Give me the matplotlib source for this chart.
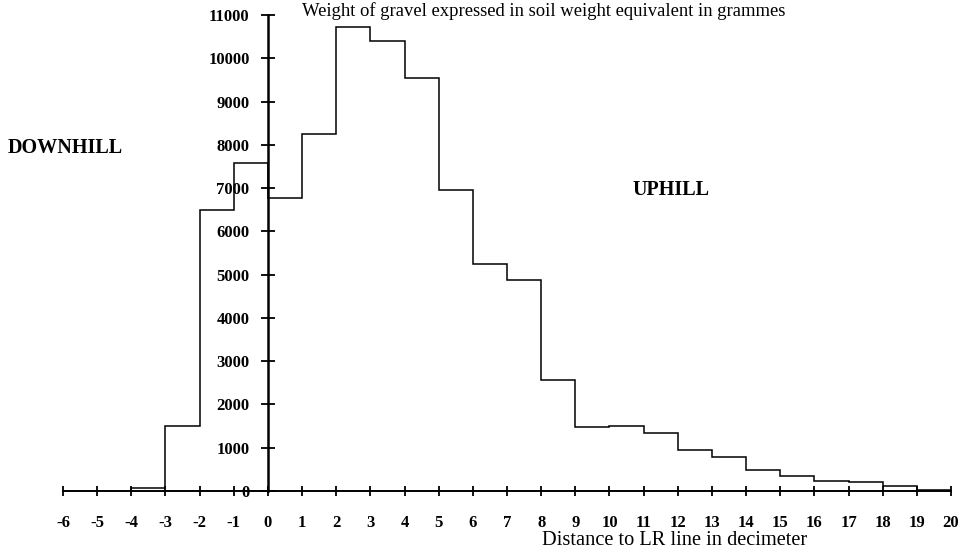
"""Gravel weight histogram against distance to the LR line (step outline, centred y-axis)."""

import matplotlib

matplotlib.use("Agg")
import matplotlib.pyplot as plt
import numpy as np

# Bin edges in decimetres and gravel weight per bin (grammes, soil-weight equivalent).
edges = np.arange(-4, 21)
weights = [60, 1500, 6500, 7580, 6770, 8250, 10720, 10400, 9540, 6950,
           5240, 4870, 2560, 1480, 1510, 1340, 950, 780, 480, 340,
           220, 200, 120, 30]
x_ticks = list(range(-6, 21))
y_ticks = list(range(0, 11001, 1000))

plt.rcParams["font.family"] = ["Liberation Serif", "DejaVu Serif"]
plt.rcParams["axes.unicode_minus"] = False

W, H = 968, 558
fig = plt.figure(figsize=(W / 100, H / 100), dpi=100)
x0, x1 = 63, 951      # pixel positions of x=-6 and x=20
y0, y1 = 491, 15      # pixel positions of y=0 and y=11000
ax = fig.add_axes([x0 / W, 1 - y0 / H, (x1 - x0) / W, (y0 - y1) / H])

ax.stairs(weights, edges, baseline=0, color="black", lw=1.1)

ax.set_xlim(-6, 20)
ax.set_ylim(0, 11000)
ax.spines["top"].set_visible(False)
ax.spines["right"].set_visible(False)
ax.spines["left"].set_position(("data", 0))
ax.spines["left"].set_linewidth(1.8)
ax.spines["bottom"].set_linewidth(1.4)

ax.set_xticks(x_ticks)
ax.set_yticks(y_ticks)
ax.tick_params(axis="x", direction="inout", length=7, width=1.3,
               labelsize=12, pad=14)
ax.tick_params(axis="y", direction="inout", length=9.5, width=1.3,
               labelsize=12, pad=8.5)
for lab in ax.get_xticklabels() + ax.get_yticklabels():
    lab.set_fontweight("bold")
for t in ax.xaxis.get_major_ticks() + ax.yaxis.get_major_ticks():
    t.tick1line.set_clip_on(False)

fig.text(302 / W, 1 - 11 / H, "Weight of gravel expressed in soil weight equivalent in grammes",
         fontsize=13.4, va="center", ha="left")
fig.text(542 / W, 1 - 545 / H, "Distance to LR line in decimeter",
         fontsize=14.7, va="baseline", ha="left")
fig.text(8 / W, 1 - 148 / H, "DOWNHILL", fontsize=14.5, fontweight="bold",
         va="center", ha="left")
fig.text(632 / W, 1 - 190 / H, "UPHILL", fontsize=14.5, fontweight="bold",
         va="center", ha="left")

fig.savefig("out.png", dpi=100)
